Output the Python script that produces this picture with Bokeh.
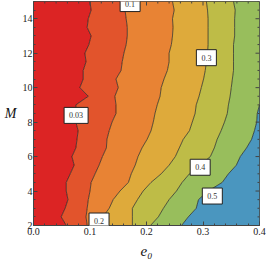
import numpy as np
from bokeh.plotting import figure
from bokeh.models import Label, Range1d, SingleIntervalTicker, PrintfTickFormatter
from bokeh.embed import file_html
from bokeh.resources import INLINE

E0_MIN, E0_MAX = 0.0, 0.4
M_MIN, M_MAX = 2.0, 15.0

M = [2.0, 2.5, 3.0, 3.5, 4.0, 4.5, 5.0, 5.5, 6.0, 6.5, 7.0, 7.5, 8.0, 8.5,
     9.0, 9.5, 10.0, 10.5, 11.0, 11.5, 12.0, 12.5, 13.0, 13.5, 14.0, 14.5, 15.0]

# e0 position of each contour line at the M values above
c_003 = [0.058, 0.049, 0.056, 0.061, 0.058, 0.058, 0.065, 0.072, 0.068, 0.075, 0.077, 0.079, 0.075, 0.075,
         0.075, 0.097, 0.082, 0.088, 0.088, 0.093, 0.091, 0.098, 0.102, 0.095, 0.097, 0.102, 0.100]
c_01 = [0.095, 0.093, 0.095, 0.097, 0.100, 0.102, 0.109, 0.116, 0.122, 0.129, 0.130, 0.134, 0.139, 0.146,
        0.146, 0.144, 0.150, 0.146, 0.155, 0.157, 0.160, 0.164, 0.166, 0.166, 0.164, 0.162, 0.166]
c_02 = [0.118, 0.123, 0.134, 0.141, 0.153, 0.168, 0.173, 0.180, 0.185, 0.192, 0.201, 0.208, 0.212, 0.215,
        0.219, 0.224, 0.226, 0.231, 0.237, 0.240, 0.240, 0.244, 0.246, 0.247, 0.246, 0.249, 0.246]
c_03 = [0.175, 0.175, 0.175, 0.184, 0.194, 0.208, 0.226, 0.240, 0.251, 0.258, 0.265, 0.276, 0.281, 0.286,
        0.288, 0.293, 0.297, 0.301, 0.304, 0.306, 0.308, 0.309, 0.309, 0.309, 0.309, 0.308, 0.306]
c_04 = [0.207, 0.221, 0.230, 0.240, 0.253, 0.263, 0.276, 0.295, 0.313, 0.320, 0.325, 0.332, 0.338, 0.343,
        0.345, 0.348, 0.350, 0.352, 0.354, 0.354, 0.354, 0.354, 0.356, 0.356, 0.356, 0.357, 0.354]
c_05 = [0.262, 0.274, 0.288, 0.292, 0.309, 0.334, 0.345, 0.359, 0.366, 0.377, 0.386, 0.391, 0.395, 0.396,
        0.400, np.nan, np.nan, np.nan, np.nan, np.nan, np.nan, np.nan, np.nan, np.nan, np.nan, np.nan, np.nan]

contours = [c_003, c_01, c_02, c_03, c_04, c_05]
level_labels = ["0.03", "0.1", "0.2", "0.3", "0.4", "0.5"]
label_e0 = [0.0754, 0.171, 0.116, 0.306, 0.295, 0.3165]
label_M = [8.39, 14.88, 2.26, 11.74, 5.38, 3.71]

x_tick_step, x_minor_n = 0.1, 5
y_tick_step, y_minor_n = 2, 4

band_colors = ["#DC2424", "#E2542C", "#E88334", "#DEAA3B", "#BEBC47", "#98BE5C", "#4A96BF"]

SERIF = "Liberation Serif"
FRAME = "#444444"

p = figure(width=266, height=261,
           x_range=Range1d(E0_MIN, E0_MAX), y_range=Range1d(M_MIN, M_MAX),
           output_backend="svg", toolbar_location=None,
           min_border_left=33, min_border_right=7, min_border_top=1, min_border_bottom=35,
           x_axis_label="e₀", y_axis_label="M")
p.styles = {"position": "absolute", "left": "0px", "top": "0px"}
p.grid.visible = False
p.outline_line_color = FRAME
p.background_fill_color = "white"
p.border_fill_color = "white"

n = len(M)
bounds = [np.full(n, E0_MIN)] + [np.array(c, dtype=float) for c in contours[:-1]] + \
         [np.nan_to_num(np.array(c_05, dtype=float), nan=E0_MAX), np.full(n, E0_MAX)]
for i, col in enumerate(band_colors):
    p.harea(y=M, x1=bounds[i], x2=bounds[i + 1], fill_color=col, fill_alpha=1.0)

for c in contours:
    p.line(x=c, y=M, line_color="#1a1a1a", line_alpha=0.75, line_width=0.9)

p.xaxis.ticker = SingleIntervalTicker(interval=x_tick_step, num_minor_ticks=x_minor_n)
p.xaxis.formatter = PrintfTickFormatter(format="%.1f")
p.yaxis.ticker = SingleIntervalTicker(interval=y_tick_step, num_minor_ticks=y_minor_n)

for ax in [p.xaxis[0], p.yaxis[0]]:
    ax.major_tick_in = 4
    ax.major_tick_out = 0
    ax.minor_tick_in = 2
    ax.minor_tick_out = 0
    ax.axis_line_color = FRAME
    ax.major_tick_line_color = FRAME
    ax.minor_tick_line_color = FRAME
    ax.major_label_text_font = SERIF
    ax.major_label_text_font_size = "10px"
    ax.major_label_text_color = "#222222"
    ax.axis_label_text_font = SERIF
    ax.axis_label_text_font_size = "14px"
    ax.axis_label_text_font_style = "italic"
    ax.axis_label_text_color = "#111111"

p.xaxis[0].axis_label_text_font_size = "15px"
p.xaxis[0].major_label_standoff = 2
p.xaxis[0].axis_label_standoff = 5
p.yaxis[0].major_label_standoff = 1
p.yaxis[0].axis_label_standoff = 3
p.yaxis[0].axis_label_orientation = "horizontal"

# ticks on the top and right edges of the frame (inward)
x_major = np.round(np.arange(E0_MIN, E0_MAX + 1e-9, x_tick_step), 6)
x_all = np.round(np.arange(E0_MIN, E0_MAX + 1e-9, x_tick_step / x_minor_n), 6)
x_minor = [v for v in x_all if not np.any(np.isclose(v, x_major))]
y_major = np.arange(M_MIN, M_MAX + 1e-9, y_tick_step)
y_all = np.arange(M_MIN, M_MAX + 1e-9, y_tick_step / y_minor_n)
y_minor = [v for v in y_all if not np.any(np.isclose(v, y_major))]

p.ray(x=x_major, y=[M_MAX] * len(x_major), length=4, angle=-np.pi / 2,
      length_units="screen", line_color=FRAME, line_width=1)
p.ray(x=x_minor, y=[M_MAX] * len(x_minor), length=2, angle=-np.pi / 2,
      length_units="screen", line_color=FRAME, line_width=1)
p.ray(x=[E0_MAX] * len(y_major), y=y_major, length=4, angle=np.pi,
      length_units="screen", line_color=FRAME, line_width=1)
p.ray(x=[E0_MAX] * len(y_minor), y=y_minor, length=2, angle=np.pi,
      length_units="screen", line_color=FRAME, line_width=1)

for t, x, y in zip(level_labels, label_e0, label_M):
    p.add_layout(Label(x=x, y=y, text=t, text_font=SERIF, text_font_size="8px",
                       text_align="center", text_baseline="middle", text_color="#333333",
                       background_fill_color="white", border_line_color="#222222",
                       border_line_width=1, padding=5))

open("out.html", "w").write(file_html(p, INLINE))
